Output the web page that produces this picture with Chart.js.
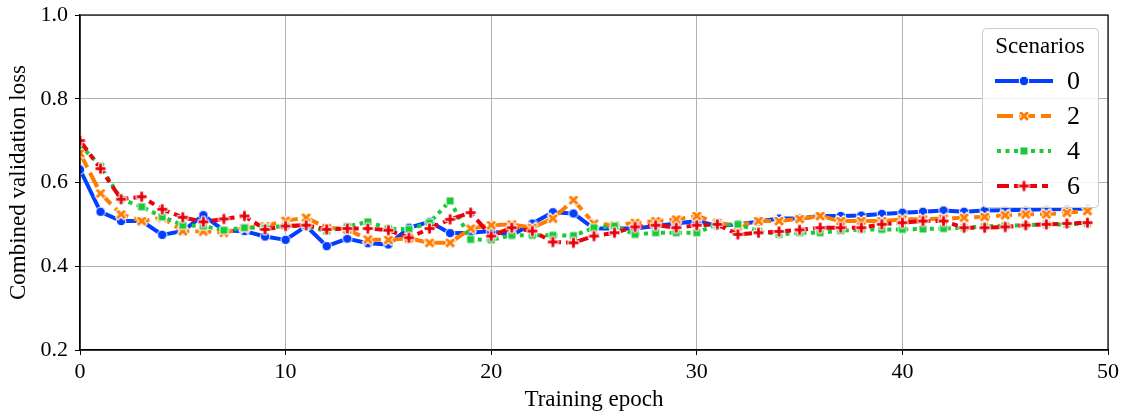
<!DOCTYPE html>
<html>
<head>
<meta charset="utf-8">
<script src="https://cdn.jsdelivr.net/npm/chart.js@4.4.1/dist/chart.umd.min.js"></script>
<style>
  html, body { margin: 0; padding: 0; background: #fff; }
  #wrap { width: 1128px; height: 416px; }
</style>
</head>
<body>
<div id="wrap"><canvas id="lossChart" width="1128" height="416"></canvas></div>
<script>
// validation loss per epoch, one array per scenario
const epochs = [0, 1, 2, 3, 4, 5, 6, 7, 8, 9, 10, 11, 12, 13, 14, 15, 16, 17, 18, 19,
  20, 21, 22, 23, 24, 25, 26, 27, 28, 29, 30, 31, 32, 33, 34, 35, 36, 37, 38, 39,
  40, 41, 42, 43, 44, 45, 46, 47, 48, 49];

const scenario0 = [0.631, 0.530, 0.508, 0.508, 0.475, 0.484, 0.522, 0.485, 0.484, 0.471,
  0.463, 0.496, 0.448, 0.466, 0.455, 0.452, 0.492, 0.506, 0.479, 0.480,
  0.484, 0.474, 0.502, 0.529, 0.526, 0.490, 0.490, 0.490, 0.496, 0.502,
  0.508, 0.496, 0.500, 0.507, 0.514, 0.514, 0.520, 0.520, 0.521, 0.525,
  0.528, 0.530, 0.533, 0.530, 0.533, 0.534, 0.535, 0.536, 0.537, 0.538];

const scenario2 = [0.670, 0.574, 0.524, 0.508, 0.516, 0.484, 0.483, 0.480, 0.492, 0.496,
  0.509, 0.516, 0.492, 0.488, 0.464, 0.463, 0.467, 0.456, 0.456, 0.490,
  0.498, 0.500, 0.492, 0.514, 0.558, 0.502, 0.498, 0.504, 0.508, 0.512,
  0.520, 0.504, 0.496, 0.508, 0.508, 0.513, 0.520, 0.508, 0.508, 0.508,
  0.512, 0.512, 0.514, 0.516, 0.518, 0.522, 0.524, 0.524, 0.528, 0.532];

const scenario4 = [0.690, 0.639, 0.560, 0.542, 0.518, 0.498, 0.496, 0.486, 0.492, 0.492,
  0.496, 0.496, 0.484, 0.495, 0.506, 0.490, 0.488, 0.504, 0.556, 0.464,
  0.463, 0.474, 0.474, 0.474, 0.473, 0.492, 0.496, 0.476, 0.480, 0.480,
  0.480, 0.500, 0.500, 0.484, 0.476, 0.480, 0.480, 0.485, 0.488, 0.488,
  0.488, 0.489, 0.490, 0.492, 0.495, 0.497, 0.498, 0.500, 0.500, 0.502];

const scenario6 = [0.700, 0.633, 0.560, 0.566, 0.536, 0.517, 0.506, 0.513, 0.520, 0.488,
  0.496, 0.498, 0.488, 0.490, 0.490, 0.486, 0.468, 0.490, 0.512, 0.528,
  0.472, 0.492, 0.484, 0.458, 0.456, 0.472, 0.480, 0.494, 0.498, 0.492,
  0.498, 0.500, 0.476, 0.480, 0.483, 0.487, 0.492, 0.492, 0.492, 0.500,
  0.504, 0.508, 0.508, 0.492, 0.492, 0.494, 0.498, 0.500, 0.502, 0.504];

const scenarioNames = ["0", "2", "4", "6"];
const xTicks = [0, 10, 20, 30, 40, 50];
const yTicks = [0.2, 0.4, 0.6, 0.8, 1.0];

const FONT = "'Liberation Serif', 'DejaVu Serif', serif";
Chart.defaults.font.family = FONT;
Chart.defaults.color = "#000";

// filled marker glyphs with a white edge
function makeMarker(kind, color, size) {
  const pad = 2;
  const c = document.createElement("canvas");
  c.width = c.height = Math.ceil(size + pad * 2);
  const g = c.getContext("2d");
  g.translate(c.width / 2, c.height / 2);
  const s = size / 2;
  const t = s / 3;
  g.beginPath();
  if (kind === "circle") {
    g.arc(0, 0, s, 0, Math.PI * 2);
  } else if (kind === "square") {
    g.rect(-s, -s, size, size);
  } else {
    if (kind === "x") g.rotate(Math.PI / 4);
    const pts = [[-t, -s], [t, -s], [t, -t], [s, -t], [s, t], [t, t], [t, s], [-t, s], [-t, t], [-s, t], [-s, -t], [-t, -t]];
    g.moveTo(pts[0][0], pts[0][1]);
    for (let i = 1; i < pts.length; i++) g.lineTo(pts[i][0], pts[i][1]);
    g.closePath();
  }
  g.fillStyle = color;
  g.fill();
  g.strokeStyle = "#fff";
  g.lineWidth = 1;
  g.stroke();
  return c;
}

const colors = ["#023eff", "#ff7c00", "#1ac938", "#e8000b"];
const dashes = [[], [16, 6], [4, 4.5], [12, 5, 6, 5]];
const markers = [
  makeMarker("circle", colors[0], 9.5),
  makeMarker("x", colors[1], 12),
  makeMarker("square", colors[2], 8),
  makeMarker("plus", colors[3], 11),
];
const series = [scenario0, scenario2, scenario4, scenario6];

const datasets = series.map((vals, i) => ({
  label: scenarioNames[i],
  data: vals,
  borderColor: colors[i],
  backgroundColor: colors[i],
  borderWidth: 4,
  borderDash: dashes[i],
  borderCapStyle: i === 0 ? "square" : "butt",
  borderJoinStyle: "round",
  pointStyle: markers[i],
  pointRadius: 5,
  pointHoverRadius: 5,
  tension: 0,
  clip: 0,
  order: 3 - i,
}));

// box around the plot area
const frame = {
  id: "frame",
  afterDatasetsDraw(chart) {
    const { ctx, chartArea: a } = chart;
    ctx.save();
    ctx.strokeStyle = "#000";
    ctx.lineWidth = 1.2;
    ctx.strokeRect(a.left, a.top, a.right - a.left, a.bottom - a.top);
    ctx.restore();
  },
};

// legend box in the upper right corner
const scenarioLegend = {
  id: "scenarioLegend",
  afterDraw(chart) {
    const { ctx, chartArea: a } = chart;
    const w = 116, h = 179;
    const x = a.right - 10 - w, y = a.top + 13;
    ctx.save();
    ctx.beginPath();
    ctx.roundRect(x + 0.5, y + 0.5, w, h, 4);
    ctx.fillStyle = "rgba(255,255,255,0.85)";
    ctx.fill();
    ctx.strokeStyle = "#cccccc";
    ctx.lineWidth = 1;
    ctx.stroke();

    ctx.fillStyle = "#000";
    ctx.textBaseline = "middle";
    ctx.textAlign = "center";
    ctx.font = "23px " + FONT;
    ctx.fillText("Scenarios", x + w / 2, y + 19);

    ctx.font = "26px " + FONT;
    ctx.textAlign = "left";
    for (let i = 0; i < scenarioNames.length; i++) {
      const ry = y + 53 + i * 35;
      const x0 = x + 15, x1 = x + 69;
      ctx.beginPath();
      ctx.setLineDash(dashes[i]);
      ctx.lineCap = i === 0 ? "square" : "butt";
      ctx.strokeStyle = colors[i];
      ctx.lineWidth = 4;
      ctx.moveTo(x0, ry);
      ctx.lineTo(x1, ry);
      ctx.stroke();
      ctx.setLineDash([]);
      const m = markers[i];
      ctx.drawImage(m, (x0 + x1) / 2 - m.width / 2, ry - m.height / 2);
      ctx.fillText(scenarioNames[i], x + 85, ry + 1);
    }
    ctx.restore();
  },
};

new Chart(document.getElementById("lossChart"), {
  type: "line",
  data: { labels: epochs, datasets: datasets },
  options: {
    responsive: false,
    animation: false,
    layout: { padding: { top: 15, right: 20, left: 0, bottom: 0 } },
    plugins: {
      legend: { display: false },
      tooltip: { enabled: false },
    },
    scales: {
      x: {
        type: "linear",
        min: 0,
        max: 50,
        afterBuildTicks: (scale) => { scale.ticks = xTicks.map((v) => ({ value: v })); },
        afterFit: (scale) => { scale.height = 66; scale.paddingLeft = 0; scale.paddingRight = 0; },
        grid: { color: "#b0b0b0", lineWidth: 1, tickColor: "#000", tickLength: 5 },
        border: { color: "#000", width: 1.2 },
        ticks: { font: { size: 22 }, color: "#000", padding: 4, maxRotation: 0 },
        title: { display: true, text: "Training epoch", font: { size: 23 }, color: "#000", padding: { top: 0, bottom: 2 } },
      },
      y: {
        min: 0.2,
        max: 1.0,
        afterBuildTicks: (scale) => { scale.ticks = yTicks.map((v) => ({ value: v })); },
        afterFit: (scale) => { scale.width = 80; scale.paddingTop = 0; scale.paddingBottom = 0; },
        grid: { color: "#b0b0b0", lineWidth: 1, tickColor: "#000", tickLength: 5 },
        border: { color: "#000", width: 1.2 },
        ticks: { font: { size: 22 }, color: "#000", padding: 7, callback: (v) => v.toFixed(1) },
        title: { display: true, text: "Combined validation loss", font: { size: 23 }, color: "#000", padding: { top: 5, bottom: 0 } },
      },
    },
  },
  plugins: [frame, scenarioLegend],
});
</script>
</body>
</html>
